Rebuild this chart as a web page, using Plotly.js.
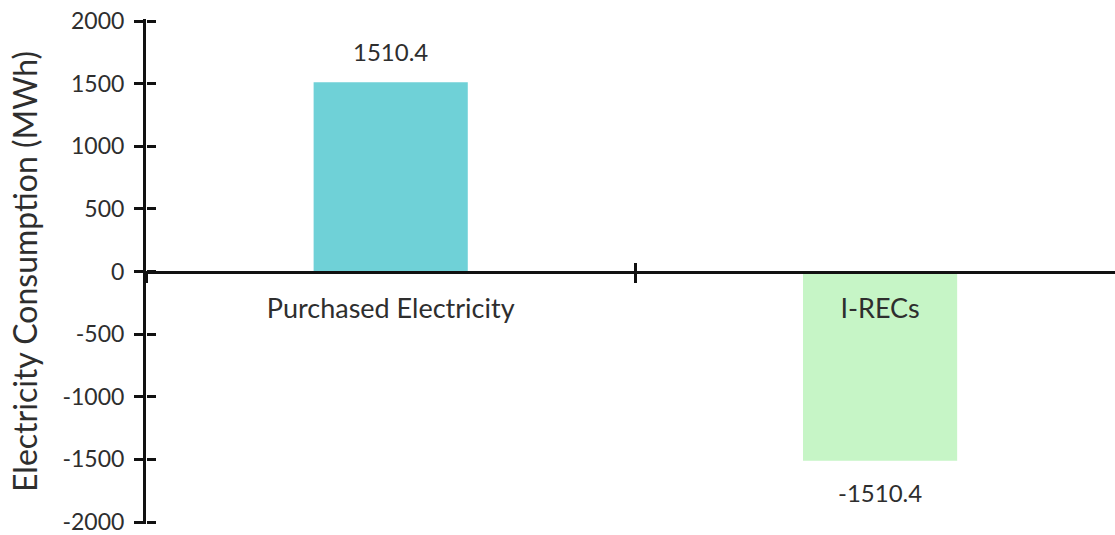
<!DOCTYPE html>
<html>
<head>
<meta charset="utf-8">
<script src="https://cdn.plot.ly/plotly-3.0.1.min.js"></script>
<style>html,body{margin:0;padding:0;background:#fff;}#chart{width:1115px;height:535px;}</style>
</head>
<body>
<div id="chart"></div>
<script>
const categories = ["Purchased Electricity", "I-RECs"];
const values = [1510.4, -1510.4];
const valueLabels = ["1510.4", "-1510.4"];
const barColors = ["#6FD1D7", "#C6F5C6"];
const yTicks = [-2000, -1500, -1000, -500, 0, 500, 1000, 1500, 2000];
const yTickText = ["-2000", "-1500", "-1000", "-500", "0", "500", "1000", "1500", "2000"];

const FONT = "Lato, 'Open Sans', sans-serif";
const TXT = "#2e2e2e";
const Y_RANGE = [-2016, 2016];

const trace = {
  type: "bar",
  x: categories,
  y: values,
  width: 0.315,
  marker: {color: barColors, line: {width: 0}},
  hoverinfo: "skip",
  cliponaxis: false
};

const annotations = categories.map((c, i) => ({
  x: c, y: values[i], xref: "x", yref: "y",
  text: valueLabels[i], showarrow: false,
  yanchor: values[i] >= 0 ? "bottom" : "top",
  yshift: values[i] >= 0 ? 14 : -15,
  font: {family: FONT, size: 24, color: TXT}
}));

const layout = {
  width: 1115, height: 535,
  margin: {l: 146, r: 0, t: 19, b: 11},
  paper_bgcolor: "#fff", plot_bgcolor: "#fff",
  showlegend: false,
  font: {family: FONT, color: TXT},
  xaxis: {
    type: "category",
    range: [-0.5, 1.48],
    anchor: "free", position: 0.5,
    showline: true, linecolor: "#111", linewidth: 3,
    ticks: "outside", ticklen: 9, tickwidth: 3, tickcolor: "#111",
    tickson: "boundaries",
    showgrid: false, zeroline: false,
    ticklabelstandoff: 12,
    tickfont: {family: FONT, size: 27, color: TXT},
    fixedrange: true
  },
  xaxis2: {
    type: "category",
    overlaying: "x",
    range: [-0.5, 1.48],
    anchor: "free", position: 0.5,
    showline: false,
    ticks: "inside", ticklen: 9, tickwidth: 3, tickcolor: "#111",
    tickson: "boundaries",
    showticklabels: false, showgrid: false, zeroline: false
  },
  yaxis: {
    range: Y_RANGE,
    tickvals: yTicks,
    ticktext: yTickText,
    showline: true, linecolor: "#111", linewidth: 3,
    ticks: "outside", ticklen: 9, tickwidth: 3, tickcolor: "#111",
    showgrid: false, zeroline: false,
    ticklabelstandoff: 5,
    ticklabeloverflow: "allow",
    tickfont: {family: FONT, size: 23, color: TXT},
    title: {text: "Electricity Consumption (MWh)", font: {family: FONT, size: 32, color: TXT}, standoff: 16},
    fixedrange: true
  },
  yaxis2: {
    range: Y_RANGE,
    overlaying: "y", side: "left", anchor: "free", position: 0,
    tickvals: yTicks,
    ticks: "inside", ticklen: 9, tickwidth: 3, tickcolor: "#111",
    showticklabels: false, showgrid: false, zeroline: false, showline: false
  },
  annotations: annotations
};

const ghost = {type: "bar", x: categories, y: [0, 0], xaxis: "x2", yaxis: "y2", hoverinfo: "skip", marker: {color: "rgba(0,0,0,0)"}, showlegend: false};

Plotly.newPlot("chart", [trace, ghost], layout, {displayModeBar: false, staticPlot: true});
</script>
</body>
</html>
